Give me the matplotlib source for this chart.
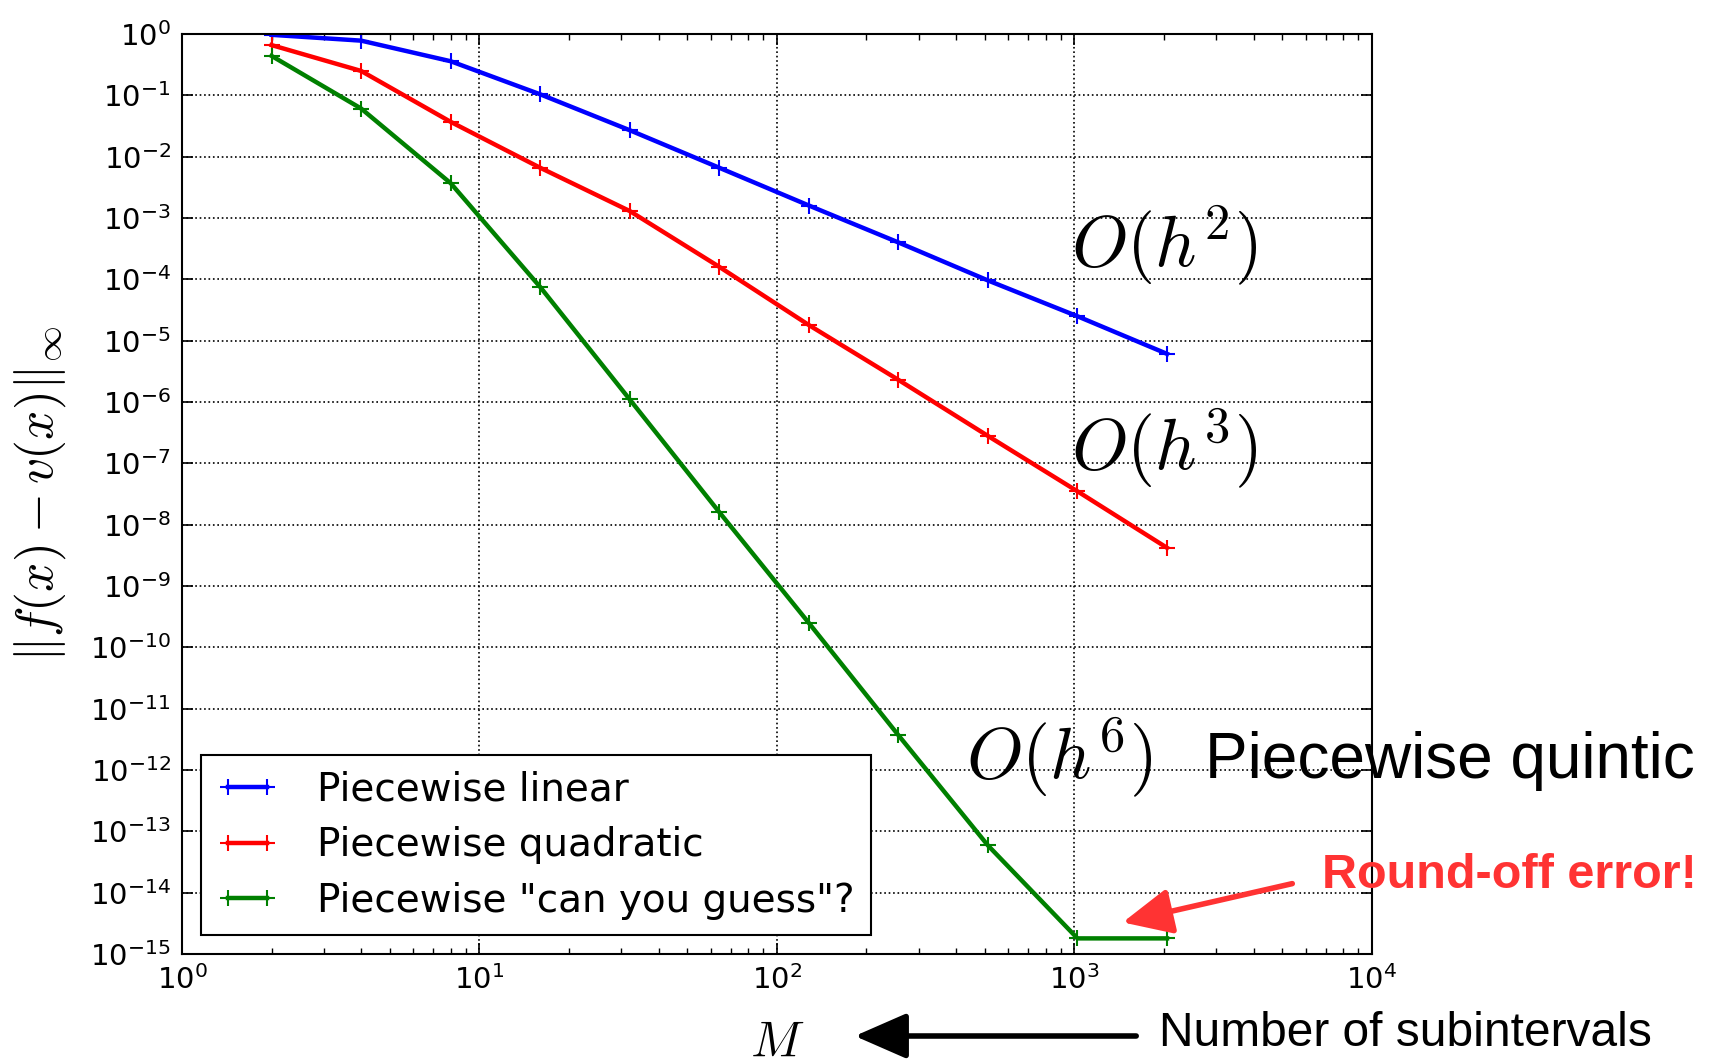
import matplotlib
matplotlib.use("Agg")
import matplotlib.pyplot as plt
from matplotlib.ticker import NullLocator, LogLocator
import numpy as np

# subintervals
M = [2, 4, 8, 16, 32, 64, 128, 256, 512, 1024, 2048]

# max-norm errors
err_linear = [0.97, 0.78, 0.36, 0.104, 0.027, 0.0066, 0.0016, 4.0e-4, 9.6e-5, 2.5e-5, 6.1e-6]
err_quadratic = [0.66, 0.25, 0.037, 0.0066, 0.0013, 1.6e-4, 1.8e-5, 2.3e-6, 2.8e-7, 3.5e-8, 4.2e-9]
err_quintic = [0.44, 0.061, 0.0037, 7.5e-5, 1.1e-6, 1.6e-8, 2.5e-10, 3.7e-12, 5.9e-14, 1.8e-15, 1.8e-15]

labels = ['Piecewise linear', 'Piecewise quadratic', 'Piecewise "can you guess"?']
colors = ['blue', 'red', 'green']

fig = plt.figure(figsize=(17.17, 10.63), dpi=100)
ax = fig.add_axes([0.106, 0.1025, 0.693, 0.8655])

for err, lab, col in zip([err_linear, err_quadratic, err_quintic], labels, colors):
    ax.loglog(M, err, '-+', color=col, lw=3.2, ms=12, mew=1.5, label=lab)

ax.set_xlim(1, 1e4)
ax.set_ylim(1e-15, 1)
ax.yaxis.set_major_locator(LogLocator(base=10, numticks=20))
ax.yaxis.set_minor_locator(NullLocator())
ax.grid(True, which='major', color='black', linestyle=':', linewidth=1.2)
ax.tick_params(which='both', direction='in', top=True, right=True, labelsize=21, pad=8)
ax.tick_params(which='major', length=8, width=1.2)
ax.tick_params(which='minor', length=4, width=1)
for sp in ax.spines.values():
    sp.set_linewidth(1.5)

ax.set_xlabel(r'$M$', fontsize=36, math_fontfamily='cm', labelpad=16)
ax.set_ylabel(r'$\|f(x) - v(x)\|_\infty$', fontsize=37, math_fontfamily='cm')
ax.yaxis.set_label_coords(-0.096, 0.5)

leg = ax.legend(loc='lower left', fontsize=28, fancybox=False, framealpha=1,
                edgecolor='black', numpoints=2, handlelength=1.6, handletextpad=1.0,
                borderpad=0.4, labelspacing=0.45, borderaxespad=0.48)
leg.get_frame().set_linewidth(1.5)

# order annotations
ax.text(0.825, 0.770, r'$O(h^2)$', transform=ax.transAxes, fontsize=52,
        math_fontfamily='cm', ha='center', va='center')
ax.text(0.825, 0.549, r'$O(h^3)$', transform=ax.transAxes, fontsize=52,
        math_fontfamily='cm', ha='center', va='center')
ax.text(0.737, 0.213, r'$O(h^6)$', transform=ax.transAxes, fontsize=52,
        math_fontfamily='cm', ha='center', va='center')

fig.text(0.987, 0.284, 'Piecewise quintic', fontsize=46, family='Liberation Sans',
         ha='right', va='center')
fig.text(0.988, 0.176, 'Round-off error!', fontsize=35, family='Liberation Sans',
         weight='bold', color='#ff3333', ha='right', va='center')
fig.text(0.962, 0.028, 'Number of subintervals', fontsize=34.5, family='Liberation Sans',
         ha='right', va='center')

# arrows in figure pixel space
fig.add_artist(matplotlib.patches.FancyArrowPatch(
    (1295 / 1717, 1 - 883 / 1063), (1120 / 1717, 1 - 923 / 1063),
    transform=fig.transFigure, arrowstyle='-|>,head_length=1.5,head_width=0.7',
    color='#ff3333', lw=4, mutation_scale=20))
fig.add_artist(matplotlib.patches.FancyArrowPatch(
    (1139 / 1717, 1 - 1036 / 1063), (852 / 1717, 1 - 1036 / 1063),
    transform=fig.transFigure, arrowstyle='-|>,head_length=1.6,head_width=0.7',
    color='black', lw=4, mutation_scale=20))

fig.savefig('out.png', dpi=100, facecolor='white')
